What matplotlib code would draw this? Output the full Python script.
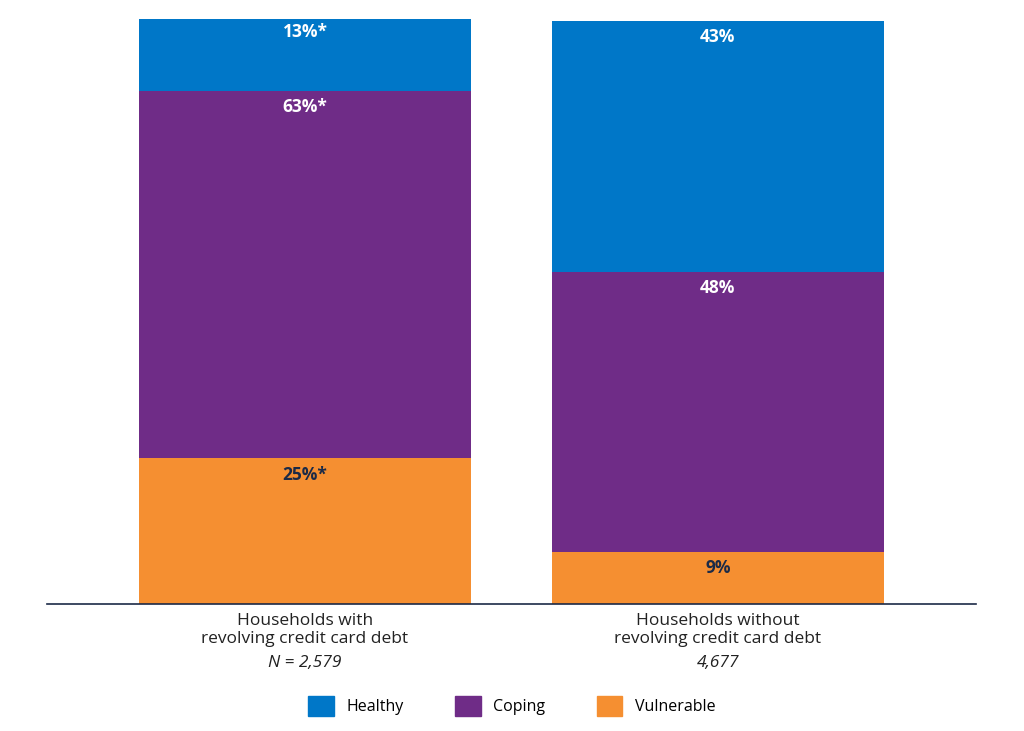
import matplotlib
matplotlib.use("Agg")
import matplotlib.pyplot as plt
from matplotlib.patches import Patch

plt.rcParams["font.family"] = "Open Sans"

categories = ["Households with\nrevolving credit card debt", "Households without\nrevolving credit card debt"]
sample_sizes = ["N = 2,579", "4,677"]
segments = ["Vulnerable", "Coping", "Healthy"]
values = {
    "Vulnerable": [25, 9],
    "Coping": [63, 48],
    "Healthy": [13, 43],
}
labels = {
    "Vulnerable": ["25%*", "9%"],
    "Coping": ["63%*", "48%"],
    "Healthy": ["13%*", "43%"],
}
colors = {"Healthy": "#0077C8", "Coping": "#6F2C87", "Vulnerable": "#F58F31"}
text_colors = {"Healthy": "white", "Coping": "white", "Vulnerable": "#1B2A47"}

fig = plt.figure(figsize=(10.24, 7.31), dpi=100)
ax = fig.add_axes([0.0459, 0.1737, 0.9072, 0.8003])

x = [0, 1]
bottoms = [0, 0]
for seg in segments:
    vals = values[seg]
    ax.bar(x, vals, bottom=bottoms, width=0.804, color=colors[seg], linewidth=0)
    for i in x:
        top = bottoms[i] + vals[i]
        ax.text(i, top - 1.3, labels[seg][i], ha="center", va="top",
                color=text_colors[seg], fontsize=12.5, fontweight="bold")
    bottoms = [b + v for b, v in zip(bottoms, vals)]

ax.set_xlim(-0.625, 1.625)
ax.set_ylim(0, 100.3)
for s in ["top", "right", "left"]:
    ax.spines[s].set_visible(False)
ax.spines["bottom"].set_color("#1B2A47")
ax.spines["bottom"].set_linewidth(1.2)
ax.set_yticks([])
ax.set_xticks([])

for i in x:
    ax.text(i, -1.5, categories[i], ha="center", va="top", fontsize=12.5,
            color="#222222", linespacing=1.15)
    ax.text(i, -8.8, sample_sizes[i], ha="center", va="top", fontsize=12.5,
            color="#222222", style="italic")

handles = [Patch(color=colors[s]) for s in ["Healthy", "Coping", "Vulnerable"]]
fig.legend(handles, ["Healthy", "Coping", "Vulnerable"], loc="center",
           bbox_to_anchor=(0.5, 1 - 706 / 731), ncol=3, frameon=False,
           fontsize=11.5, handlelength=1.6, handleheight=1.6, columnspacing=3.2)

fig.savefig("out.png", dpi=100)
